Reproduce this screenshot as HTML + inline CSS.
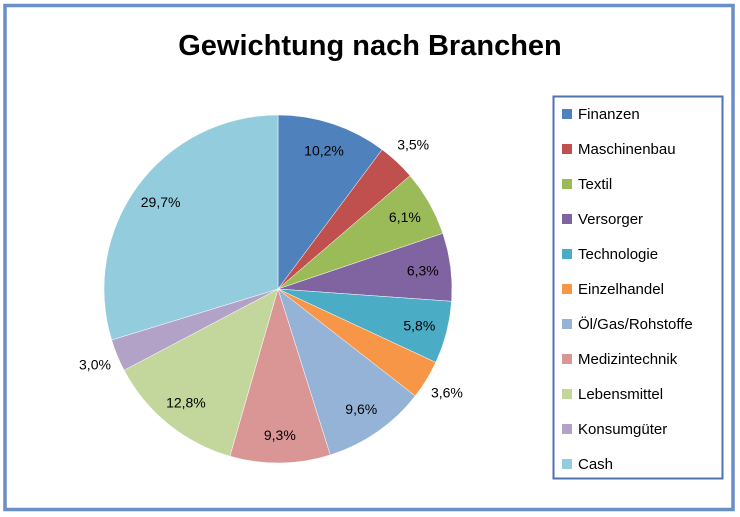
<!DOCTYPE html>
<html><head><meta charset="utf-8"><style>
body{margin:0;background:#fff;font-family:"Liberation Sans",sans-serif}
#wrap{position:relative;width:740px;height:517px;overflow:hidden}
</style></head><body>
<div id="wrap">
<svg id="svg" width="740" height="517" xmlns="http://www.w3.org/2000/svg">
<rect x="5" y="5.5" width="728" height="504" fill="#fff" stroke="#6a8fc7" stroke-width="3.5"/>
<text x="370" y="55" text-anchor="middle" font-size="29" font-weight="bold" fill="#000">Gewichtung nach Branchen</text>
<rect x="553.5" y="96.5" width="169" height="382" fill="#fff" stroke="#4f72b0" stroke-width="2"/>
<g id="slices"></g><g id="labels"></g><g id="legend"></g>
</svg>
</div>
<script>
const categories=["Finanzen","Maschinenbau","Textil","Versorger","Technologie","Einzelhandel","Öl/Gas/Rohstoffe","Medizintechnik","Lebensmittel","Konsumgüter","Cash"];
const values=[10.2,3.5,6.1,6.3,5.8,3.6,9.6,9.3,12.8,3.0,29.7];
const valueLabels=["10,2%","3,5%","6,1%","6,3%","5,8%","3,6%","9,6%","9,3%","12,8%","3,0%","29,7%"];
const colors=["#4f81bd","#c0504d","#9bbb59","#8064a2","#4bacc6","#f79646","#95b3d7","#d99694","#c3d69b","#b2a2c7","#93cddd"];
const NS="http://www.w3.org/2000/svg";
const cx=278,cy=289,r=174;
const total=values.reduce((a,b)=>a+b,0);
function pt(a,rad){return [cx+rad*Math.sin(a),cy-rad*Math.cos(a)];}
let cum=0;
const sG=document.getElementById('slices'),lG=document.getElementById('labels'),gG=document.getElementById('legend');
values.forEach((v,i)=>{
 const a0=cum/total*2*Math.PI;cum+=v;const a1=cum/total*2*Math.PI;
 const p0=pt(a0,r),p1=pt(a1,r);
 const path=document.createElementNS(NS,'path');
 path.setAttribute('d',`M${cx},${cy}L${p0[0]},${p0[1]}A${r},${r} 0 ${a1-a0>Math.PI?1:0} 1 ${p1[0]},${p1[1]}Z`);
 path.setAttribute('fill',colors[i]);path.setAttribute('stroke','#fff');path.setAttribute('stroke-width','0.5');
 
 
 sG.appendChild(path);
 const am=(a0+a1)/2;const lp=pt(am,v<5?198:146);
 const t=document.createElementNS(NS,'text');
 t.setAttribute('x',lp[0]);t.setAttribute('y',lp[1]+5);t.setAttribute('text-anchor','middle');
 t.setAttribute('font-size','14');t.setAttribute('fill','#000');t.textContent=valueLabels[i];
 
 
 lG.appendChild(t);
 const y=114+i*35;
 const sw=document.createElementNS(NS,'rect');
 sw.setAttribute('x',562);sw.setAttribute('y',y-5);sw.setAttribute('width',10);sw.setAttribute('height',10);sw.setAttribute('fill',colors[i]);
 
 
 gG.appendChild(sw);
 const lt=document.createElementNS(NS,'text');
 lt.setAttribute('x',578);lt.setAttribute('y',y+5);lt.setAttribute('font-size','15');lt.setAttribute('fill','#000');lt.textContent=categories[i];
 
 
 gG.appendChild(lt);
});
</script>
</body></html>
